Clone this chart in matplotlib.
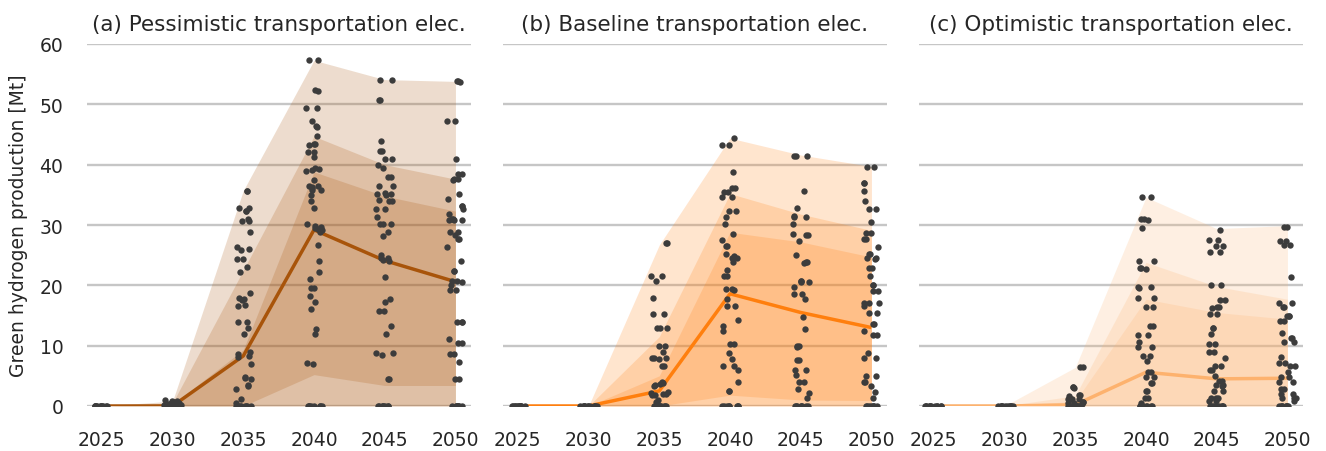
import numpy as np
import matplotlib
matplotlib.use("Agg")
import matplotlib.pyplot as plt

years = [2025, 2030, 2035, 2040, 2045, 2050]
titles = ["(a) Pessimistic transportation elec.",
          "(b) Baseline transportation elec.",
          "(c) Optimistic transportation elec."]
line_colors = ["#a8540a", "#ff7f0e", "#fdb26e"]

# band edges per panel: min/max, 10-90 %, 25-75 %, median
pess_max = [0, 0.8, 35.7, 57.3, 54.1, 53.8]
pess_p90 = [0, 0.5, 22.5, 44.7, 40.0, 37.6]
pess_p75 = [0, 0.3, 9.3, 38.8, 34.8, 32.3]
pess_p25 = [0, 0, 0, 5.2, 3.4, 3.4]
pess_med = [0, 0, 8.3, 29.2, 24.1, 20.6]

base_max = [0, 0, 26.7, 44.4, 41.6, 39.7]
base_p90 = [0, 0, 11.5, 35.2, 31.8, 29.1]
base_p75 = [0, 0, 5.0, 28.8, 27.2, 24.7]
base_p25 = [0, 0, 0, 1.8, 1.0, 0.9]
base_med = [0, 0, 2.5, 18.6, 15.5, 13.0]

opt_max = [0, 0, 6.4, 34.6, 29.4, 29.9]
opt_p90 = [0, 0, 1.7, 23.8, 19.8, 17.7]
opt_p75 = [0, 0, 0.8, 17.7, 15.5, 14.4]
opt_p25 = [0, 0, 0, 0, 0, 0]
opt_med = [0, 0, 0.2, 5.6, 4.5, 4.6]

zeros = [0.0] * 8

# scenario results per year
pess_pts = [
    [0.0] * 12,
    [0.0] * 8 + [0.1, 0.2, 0.3, 0.4, 0.5, 0.6, 0.8, 0.9, 1.0],
    zeros + [35.7, 35.7, 32.9, 32.9, 32.4, 32.4, 30.7, 30.7, 31.0, 28.9, 26.4, 26.1, 25.9,
             24.3, 24.3, 23.1, 22.2, 18.7, 17.9, 17.7, 17.5, 16.7, 16.6, 14.0, 14.0, 13.0,
             11.9, 8.9, 8.6, 8.3, 8.2, 7.0, 4.8, 4.7, 4.5, 3.5, 3.3, 2.8, 1.2, 0.5],
    zeros + [57.3, 57.3, 52.3, 52.2, 49.4, 49.4, 47.2, 46.4, 46.3, 44.7, 43.4, 43.4, 43.3,
             42.1, 42.1, 41.2, 39.4, 39.3, 39.1, 39.0, 37.5, 36.5, 36.4, 36.3, 36.2, 35.8,
             35.8, 35.0, 33.9, 32.8, 30.2, 29.8, 29.6, 29.5, 29.3, 29.1, 28.9, 26.7, 24.0,
             22.2, 21.1, 19.6, 19.5, 18.3, 17.3, 16.0, 12.8, 11.9, 7.1, 7.0],
    zeros + [54.1, 54.1, 50.7, 50.7, 43.9, 42.3, 42.3, 41.0, 41.0, 39.9, 39.5, 37.9, 37.9,
             36.5, 36.5, 35.3, 35.2, 35.1, 35.0, 34.1, 34.0, 33.9, 32.7, 32.7, 31.3, 30.2,
             30.2, 30.1, 28.8, 28.2, 25.0, 24.6, 24.5, 24.2, 24.0, 21.3, 17.7, 17.3, 15.7,
             15.7, 13.2, 11.9, 8.8, 8.8, 8.5, 4.5, 4.4],
    zeros + [53.8, 53.8, 53.7, 47.3, 47.3, 41.0, 38.4, 38.4, 37.7, 37.6, 37.5, 35.2, 34.3,
             33.2, 33.2, 32.7, 31.8, 30.9, 30.9, 30.9, 31.0, 31.0, 28.9, 28.9, 28.4, 27.7,
             27.7, 26.3, 24.0, 22.4, 22.4, 20.8, 20.7, 20.6, 20.0, 19.2, 19.2, 14.0, 14.0,
             13.9, 11.1, 10.4, 10.4, 8.6, 8.6, 7.3, 4.4, 4.4],
]

base_pts = [
    [0.0] * 12,
    [0.0] * 12,
    zeros + [27.0, 27.0, 21.6, 21.6, 20.7, 17.9, 15.3, 15.3, 12.9, 12.9, 12.9, 10.0, 10.0,
             9.0, 8.0, 8.0, 8.0, 7.8, 6.6, 6.6, 4.0, 3.8, 3.6, 3.4, 3.3, 2.3, 2.2, 2.0, 2.0,
             1.9, 1.8, 1.0, 0.6],
    zeros + [44.4, 43.3, 43.3, 38.8, 36.1, 36.1, 35.4, 35.4, 34.6, 34.6, 32.4, 32.4, 31.3,
             30.2, 28.5, 27.5, 26.5, 26.5, 25.2, 24.8, 24.6, 24.5, 23.9, 22.6, 21.5, 21.5,
             19.4, 19.4, 19.3, 17.7, 16.6, 16.6, 14.3, 13.2, 12.5, 10.3, 10.3, 8.8, 7.8, 6.6,
             6.6, 5.9, 3.9, 2.5, 2.5],
    zeros + [41.5, 41.5, 41.4, 35.7, 32.8, 31.5, 31.4, 31.3, 30.2, 28.5, 28.4, 28.3, 27.4,
             25.0, 23.9, 23.8, 23.7, 20.8, 20.7, 20.6, 20.5, 19.7, 18.5, 18.5, 17.7, 14.7,
             12.8, 9.9, 9.9, 9.8, 7.7, 7.7, 6.0, 6.0, 5.1, 3.9, 3.9, 2.9, 2.1, 1.4],
    zeros + [39.6, 39.6, 36.9, 36.9, 35.6, 33.9, 32.6, 32.6, 30.5, 28.7, 28.7, 27.7, 27.7,
             26.3, 25.2, 25.2, 24.6, 24.5, 24.4, 22.8, 22.8, 21.6, 20.0, 20.0, 19.0, 19.0,
             17.1, 17.1, 17.0, 16.5, 15.4, 15.4, 13.6, 13.6, 12.5, 11.8, 11.8, 8.8, 7.9, 7.9,
             5.0, 5.0, 4.0, 4.0, 3.3, 2.3, 1.4],
]

opt_pts = [
    [0.0] * 12,
    [0.0] * 12,
    zeros + [6.4, 6.4, 3.1, 3.1, 3.0, 1.8, 1.8, 1.7, 1.2, 1.2, 1.1, 1.1, 0.6, 0.6, 0.5,
             0.5, 0.3, 0.2],
    zeros + [34.6, 34.6, 31.0, 31.0, 30.9, 29.5, 24.1, 24.1, 22.8, 22.8, 22.7, 19.7, 19.7,
             19.6, 17.9, 17.9, 16.4, 16.4, 13.2, 13.2, 11.7, 11.7, 10.6, 9.8, 9.8, 8.3, 8.3,
             7.5, 5.6, 5.6, 4.8, 4.8, 3.8, 3.8, 2.5, 2.5, 1.4, 1.4, 0.5],
    zeros + [29.2, 27.5, 27.5, 26.6, 26.6, 25.6, 25.6, 20.0, 20.0, 17.6, 17.6, 16.4, 16.4,
             16.3, 15.3, 15.3, 12.9, 12.9, 11.9, 10.2, 10.2, 8.9, 8.9, 8.0, 6.6, 6.6, 5.9,
             5.9, 5.0, 4.2, 4.2, 3.4, 3.4, 3.3, 2.5, 2.5, 1.4, 1.4, 1.3, 0.9, 0.9],
    zeros + [29.7, 29.7, 27.4, 27.4, 26.7, 26.7, 21.4, 17.1, 17.1, 16.4, 16.4, 15.0, 15.0,
             14.9, 14.1, 14.1, 12.1, 11.2, 11.2, 10.6, 10.6, 8.1, 7.1, 7.1, 6.7, 6.7, 5.6,
             4.8, 4.8, 4.0, 4.0, 2.9, 2.9, 2.0, 2.0, 1.4, 1.4, 1.3, 0.9],
]

panels = [
    (pess_max, pess_p90, pess_p75, pess_p25, pess_med, pess_pts),
    (base_max, base_p90, base_p75, base_p25, base_med, base_pts),
    (opt_max, opt_p90, opt_p75, opt_p25, opt_med, opt_pts),
]

plt.rcParams["font.family"] = ["DejaVu Sans"]

fig = plt.figure(figsize=(13.26, 4.52), dpi=100)
lefts = [87, 503, 919]
rng = np.random.default_rng(3)
x = np.arange(len(years))

for i, (vmax, p90, p75, p25, med, pts) in enumerate(panels):
    ax = fig.add_axes([lefts[i] / 1326, 1 - 407 / 452, 384 / 1326, 362 / 452])
    c = line_colors[i]
    zero = np.zeros(len(years))
    # three stacked translucent bands: full range, 10-90 %, 25-75 %
    ax.fill_between(x, zero, vmax, color=c, alpha=0.2, lw=0, zorder=2)
    ax.fill_between(x, zero, p90, color=c, alpha=0.2, lw=0, zorder=2)
    ax.fill_between(x, p25, p75, color=c, alpha=0.2, lw=0, zorder=2)
    ax.plot(x, med, color=c, lw=2.5, zorder=3, solid_capstyle="butt")

    for j, vals in enumerate(pts):
        vals = np.asarray(vals)
        jit = rng.uniform(-0.12, 0.12, len(vals))
        ax.scatter(j + jit, vals, s=21, color="#3c3c3c", lw=0, zorder=4)

    ax.set_xlim(-0.21, 5.22)
    ax.set_ylim(0, 60)
    ax.set_xticks(x)
    ax.set_xticklabels([str(y) for y in years])
    ax.set_yticks(range(0, 61, 10))
    ax.grid(axis="y", color="#c6c6c6", lw=1.7, zorder=0)
    ax.set_axisbelow(True)
    for s in ax.spines.values():
        s.set_visible(False)
    ax.tick_params(length=0, labelsize=13.5, colors="#262626", pad=17)
    if i == 0:
        ax.set_ylabel("Green hydrogen production [Mt]", fontsize=13.5, color="#262626", labelpad=8)
    else:
        ax.set_yticklabels([])
    ax.set_title(titles[i], fontsize=15.5, color="#262626", pad=10)

fig.savefig("out.png", dpi=100)
